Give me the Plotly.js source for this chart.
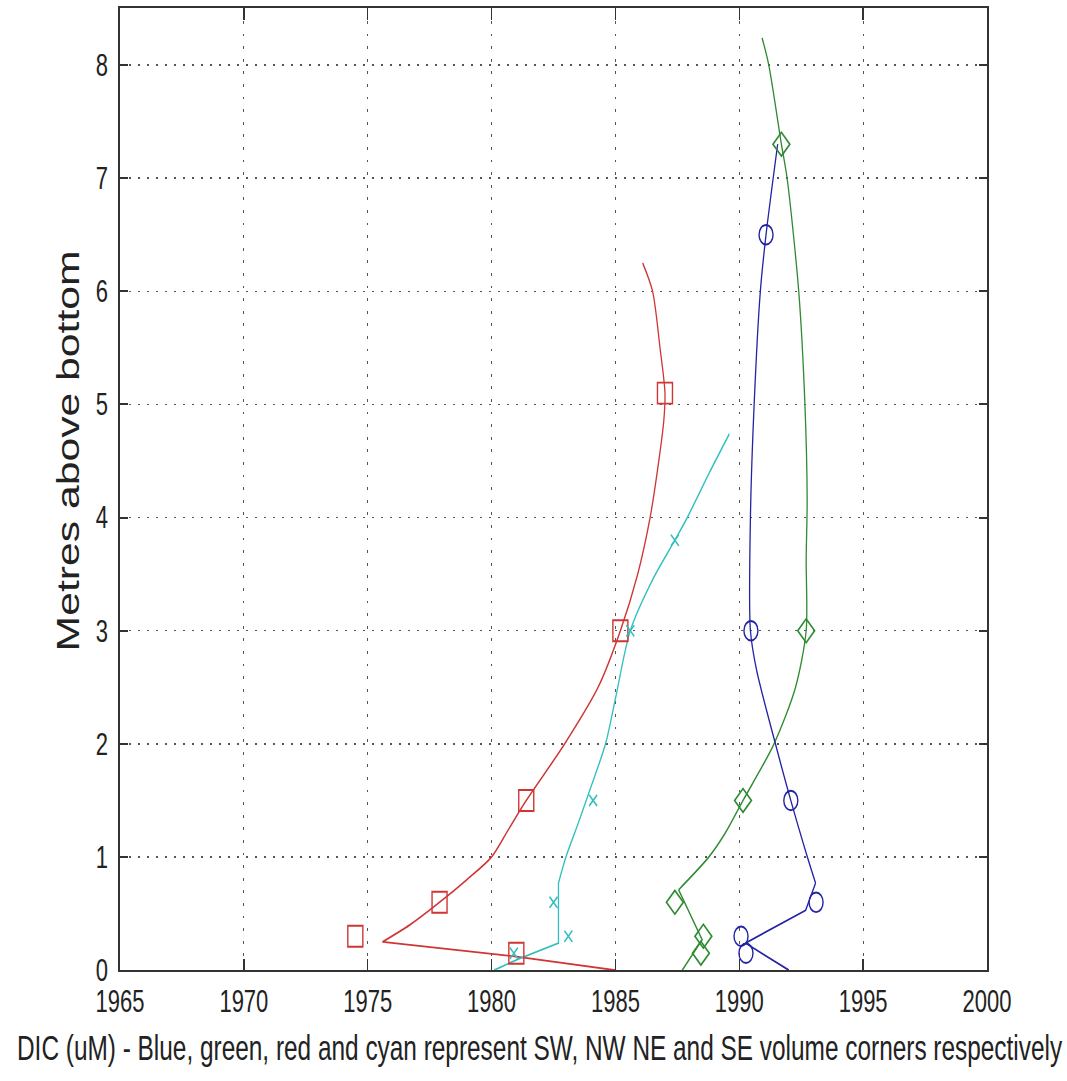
<!DOCTYPE html>
<html>
<head>
<meta charset="utf-8">
<script src="https://cdn.plot.ly/plotly-3.0.1.min.js"></script>
<style>
html,body{margin:0;padding:0;background:#fff;overflow:hidden;}
#wrap{width:1067px;height:1081px;overflow:hidden;background:#fff;}
#plot{width:1067px;height:772px;transform:scaleY(1.4);transform-origin:0 0;}
</style>
</head>
<body>
<div id="wrap"><div id="plot"></div></div>
<script>
// ---- Data (DIC in uM vs metres above bottom) ----
// Blue = SW
const swLineX = [1991.55, 1991.08, 1990.85, 1990.6, 1990.45, 1990.45, 1990.7, 1991.46, 1992.08, 1992.75, 1993.08, 1992.68, 1990.25, 1992.0];
const swLineY = [7.3, 6.5, 6.0, 5.0, 4.0, 3.0, 2.65, 2.0, 1.5, 1.0, 0.77, 0.53, 0.24, 0.0];
const swObsX = [1991.08, 1990.47, 1992.08, 1993.1, 1990.07, 1990.27];
const swObsY = [6.5, 3.0, 1.5, 0.6, 0.3, 0.15];

// Green = NW
const nwLineX = [1990.92, 1991.19, 1991.7, 1991.93, 1992.4, 1992.65, 1992.74, 1992.7, 1992.7, 1992.27, 1991.4, 1990.15, 1989.4, 1988.77, 1987.55, 1988.5, 1987.7];
const nwLineY = [8.24, 8.0, 7.3, 7.0, 6.0, 5.0, 4.16, 3.63, 3.0, 2.5, 2.0, 1.5, 1.2, 1.0, 0.71, 0.27, 0.0];
const nwObsX = [1991.7, 1992.7, 1990.15, 1987.4, 1988.55, 1988.45];
const nwObsY = [7.3, 3.0, 1.5, 0.6, 0.3, 0.15];

// Red = NE
const neLineX = [1986.1, 1986.5, 1986.8, 1987.0, 1986.95, 1986.75, 1986.4, 1985.9, 1985.2, 1984.3, 1982.95, 1981.4, 1980.7, 1980.0, 1979.0, 1977.9, 1976.7, 1975.6, 1981.0, 1985.0];
const neLineY = [6.25, 6.0, 5.5, 5.1, 4.85, 4.5, 4.0, 3.5, 3.0, 2.5, 2.0, 1.5, 1.25, 1.0, 0.8, 0.6, 0.4, 0.25, 0.12, 0.0];
const neObsX = [1974.5, 1977.9, 1981.4, 1985.2, 1987.0, 1981.0];
const neObsY = [0.3, 0.6, 1.5, 3.0, 5.1, 0.15];

// Cyan = SE
const seLineX = [1980.1, 1981.1, 1982.7, 1982.7, 1983.0, 1983.5, 1983.9, 1984.6, 1985.0, 1985.6, 1986.5, 1987.4, 1987.9, 1988.8, 1989.6];
const seLineY = [0.0, 0.1, 0.24, 0.77, 1.0, 1.3, 1.55, 2.0, 2.4, 3.0, 3.45, 3.8, 4.0, 4.4, 4.74];
const seObsX = [1980.9, 1983.1, 1982.5, 1984.1, 1985.6, 1987.4];
const seObsY = [0.15, 0.3, 0.6, 1.5, 3.0, 3.8];

const xTicks = [1965, 1970, 1975, 1980, 1985, 1990, 1995, 2000];
const yTicks = [0, 1, 2, 3, 4, 5, 6, 7, 8];

const xTitle = 'DIC (uM) - Blue, green, red and cyan represent SW, NW NE and SE volume corners respectively';
const yTitle = 'Metres above bottom';

// index where each profile changes from a smooth curve to straight segments near the bed
const swBend = 10, nwBend = 14, neBend = 17, seBend = 3;

const colBlue = '#2323a6', colGreen = '#2f8a32', colRed = '#cf3535', colCyan = '#33bfbf';

function lineTrace(x, y, c, shape) {
  return {x: x, y: y, mode: 'lines', showlegend: false, hoverinfo: 'skip',
          line: {color: c, width: 1.3, shape: shape, smoothing: 0.8}};
}
function profile(x, y, bend, c, smoothUpperFirst) {
  if (smoothUpperFirst) {
    return [lineTrace(x.slice(0, bend + 1), y.slice(0, bend + 1), c, 'spline'),
            lineTrace(x.slice(bend), y.slice(bend), c, 'linear')];
  }
  return [lineTrace(x.slice(0, bend + 1), y.slice(0, bend + 1), c, 'linear'),
          lineTrace(x.slice(bend), y.slice(bend), c, 'spline')];
}
function obsTrace(x, y, c, sym, size) {
  return {x: x, y: y, mode: 'markers', showlegend: false,
          marker: {symbol: sym, size: size, color: c, line: {color: c, width: 1.4}}};
}

const data = [].concat(
  profile(neLineX, neLineY, neBend, colRed, true),
  profile(seLineX, seLineY, seBend, colCyan, false),
  profile(nwLineX, nwLineY, nwBend, colGreen, true),
  profile(swLineX, swLineY, swBend, colBlue, true),
  [obsTrace(neObsX, neObsY, colRed, 'square-open', 15),
   obsTrace(seObsX, seObsY, colCyan, 'x-thin-open', 8),
   obsTrace(nwObsX, nwObsY, colGreen, 'diamond-open', 13),
   obsTrace(swObsX, swObsY, colBlue, 'circle-open', 14)]
);

const fontFam = 'Liberation Sans, Arial, Helvetica, sans-serif';
const layout = {
  width: 1067, height: 772,
  margin: {l: 120, r: 80, t: 6, b: 79, pad: 0},
  paper_bgcolor: '#fff', plot_bgcolor: '#fff',
  font: {family: fontFam, color: '#222'},
  showlegend: false,
  xaxis: {
    range: [1965, 2000], tickvals: xTicks, ticktext: xTicks.map(String),
    ticks: 'inside', ticklen: 8, tickwidth: 1.5, tickcolor: '#333',
    showline: true, linecolor: '#333', linewidth: 1.6, mirror: 'ticks',
    showgrid: true, gridcolor: '#555', gridwidth: 1, griddash: '2px,7px',
    zeroline: false, tickfont: {size: 22, color: '#222'},
    ticklabelstandoff: 2
  },
  yaxis: {
    range: [0, 8.5], tickvals: yTicks, ticktext: yTicks.map(String),
    ticks: 'inside', ticklen: 8, tickwidth: 1.5, tickcolor: '#333',
    showline: true, linecolor: '#333', linewidth: 1.6, mirror: 'ticks',
    showgrid: true, gridcolor: '#555', gridwidth: 1, griddash: '2px,7px',
    zeroline: false, tickfont: {size: 22, color: '#222'},
    ticklabelstandoff: 6
  },
  annotations: [
    {text: xTitle, xref: 'paper', yref: 'paper', x: -0.121, y: -0.081,
     xanchor: 'left', yanchor: 'middle', showarrow: false,
     font: {size: 24.4, color: '#222', family: fontFam}},
    {text: yTitle, xref: 'paper', yref: 'paper', x: -0.06, y: 0.541,
     xanchor: 'center', yanchor: 'middle', textangle: -90, showarrow: false,
     font: {size: 30.5, color: '#222', family: fontFam}}
  ]
};

Plotly.newPlot('plot', data, layout, {staticPlot: true, displayModeBar: false, responsive: false});
</script>
</body>
</html>
